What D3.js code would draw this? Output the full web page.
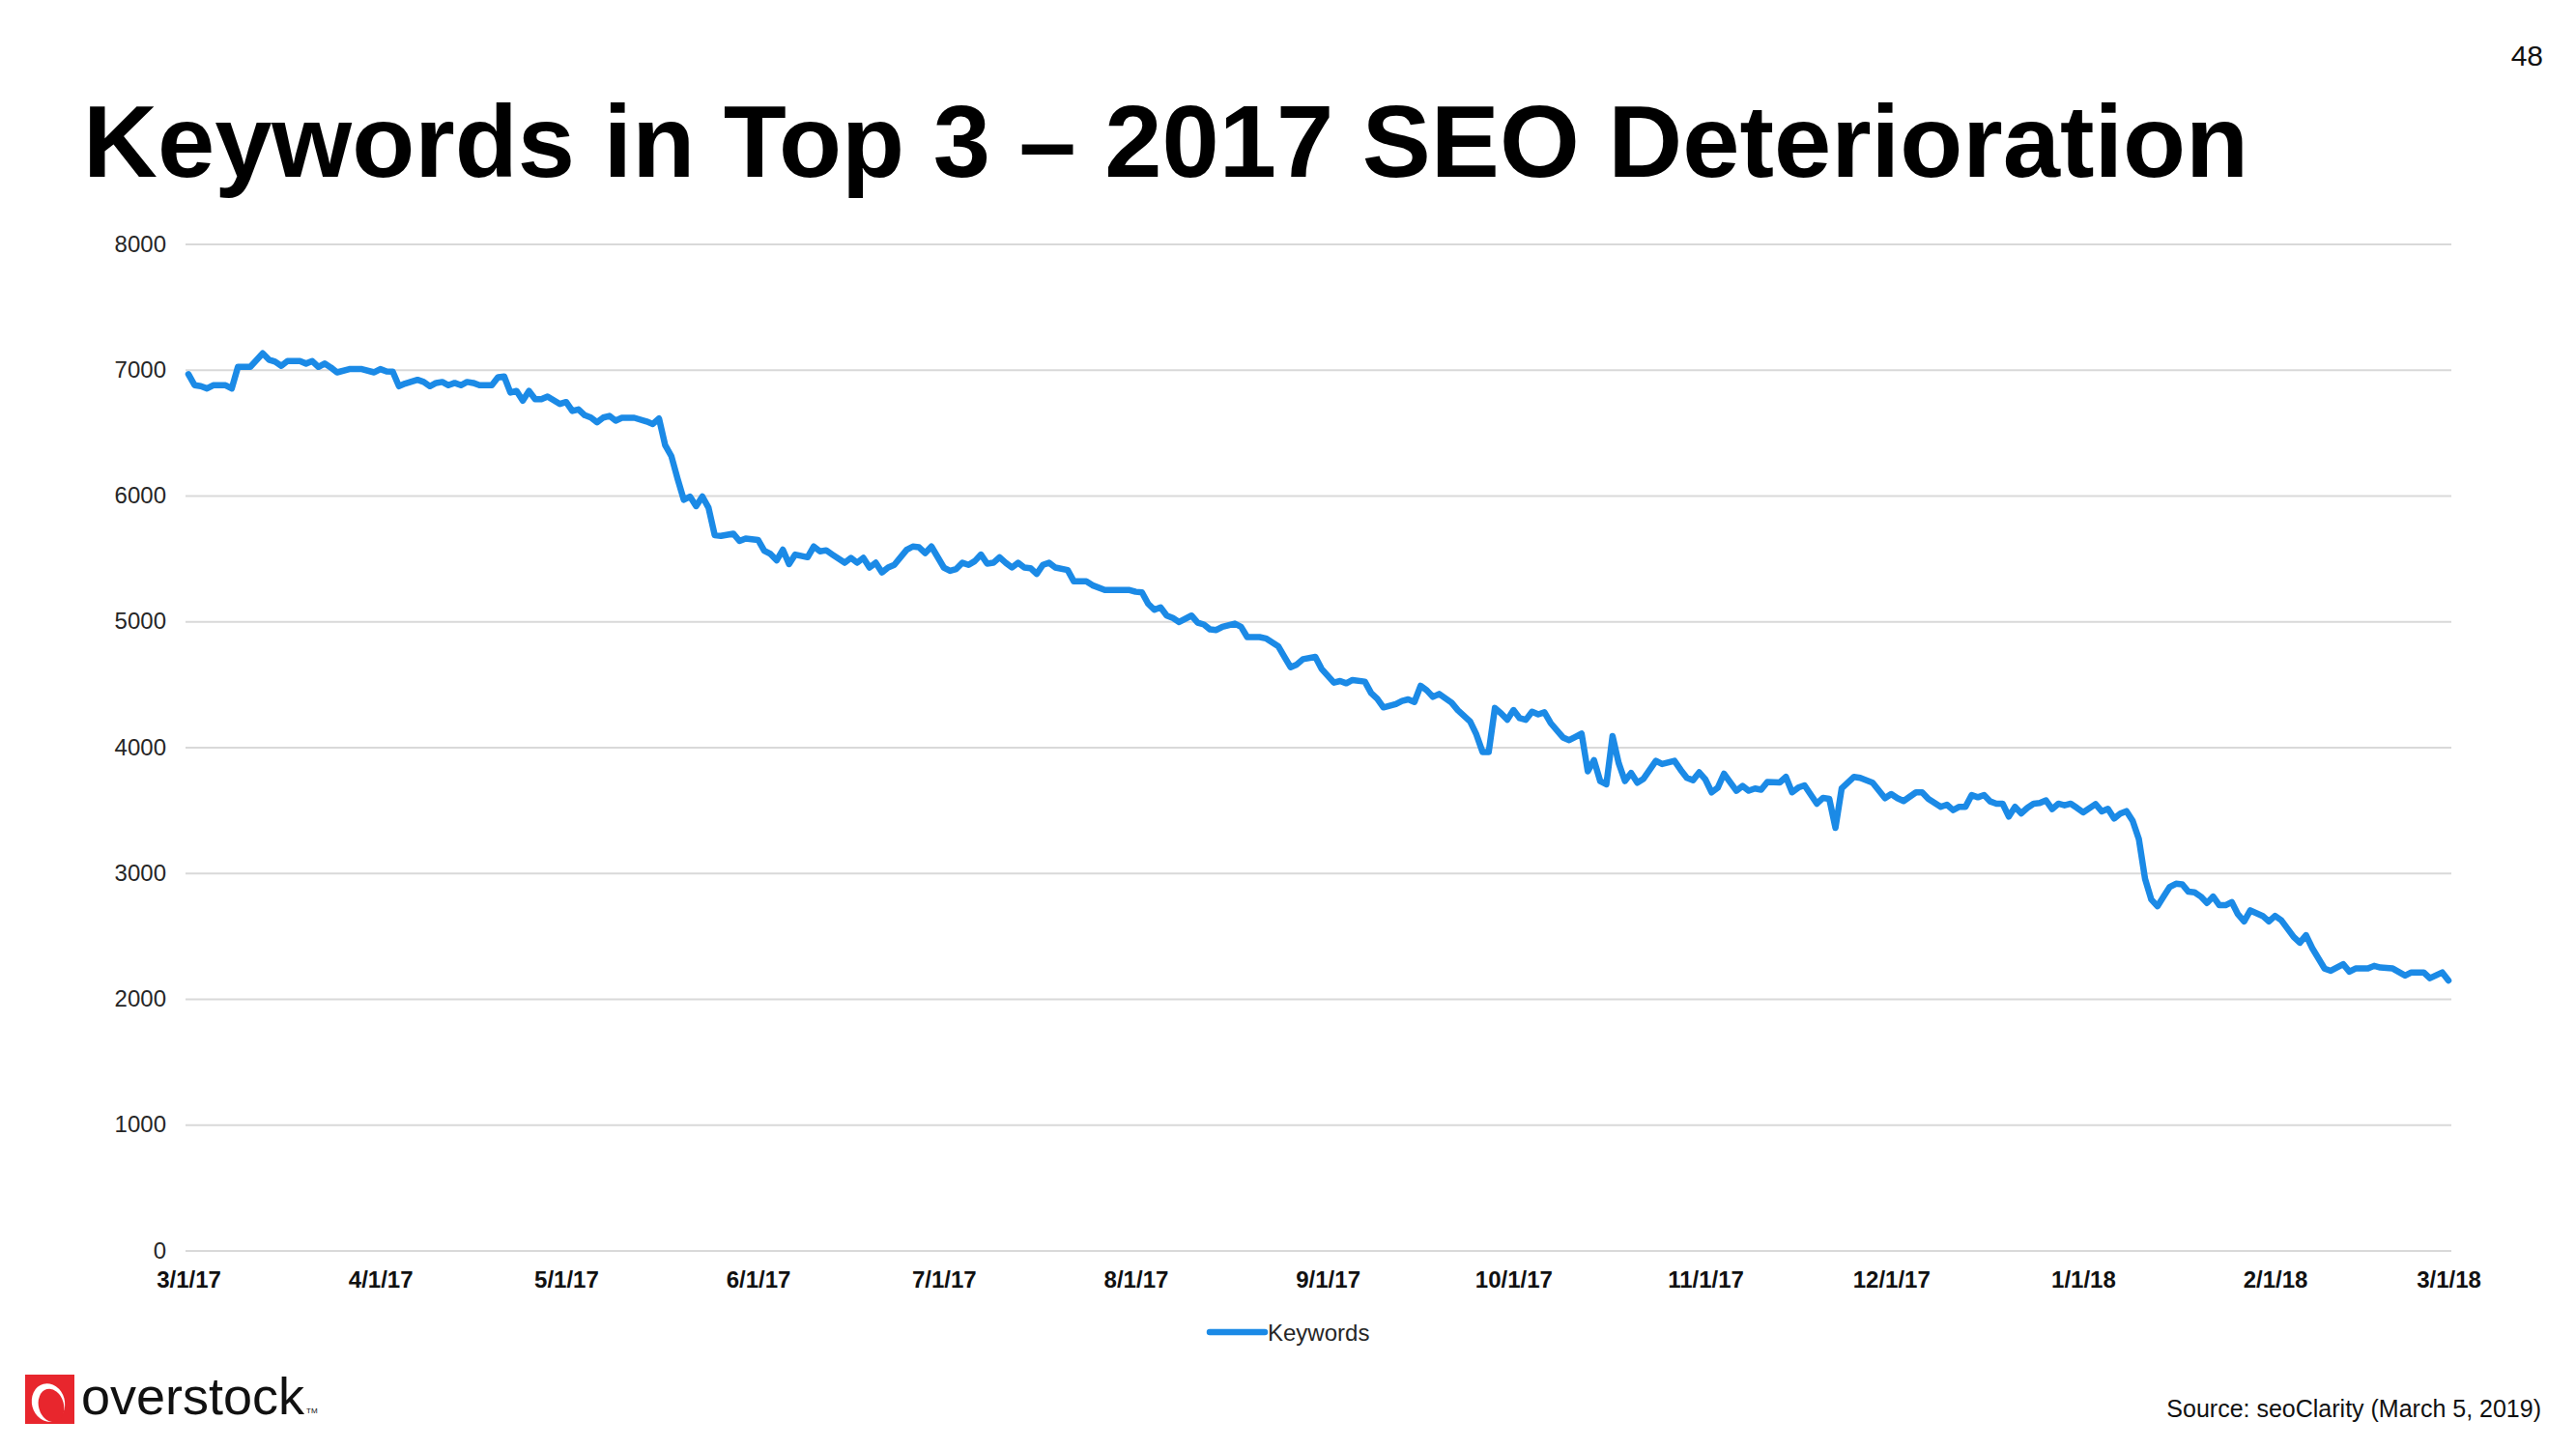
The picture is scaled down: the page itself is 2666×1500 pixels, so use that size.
<!DOCTYPE html>
<html>
<head>
<meta charset="utf-8">
<script src="https://cdn.jsdelivr.net/npm/d3@7"></script>
<style>
  html, body { margin: 0; padding: 0; background: #fff; }
  svg { display: block; }
  text { font-family: "Liberation Sans", Arial, Helvetica, sans-serif; }
</style>
</head>
<body>
<svg id="chart" width="2666" height="1500"></svg>
<script>
// ---------------- DATA ----------------
const dates = [
"3/1/17","3/2/17","3/3/17","3/4/17","3/5/17","3/7/17","3/8/17","3/9/17","3/11/17","3/13/17",
"3/14/17","3/15/17","3/16/17","3/17/17","3/19/17","3/20/17","3/21/17","3/22/17","3/23/17","3/24/17",
"3/25/17","3/27/17","3/29/17","3/31/17","4/1/17","4/2/17","4/3/17","4/4/17","4/5/17","4/7/17",
"4/8/17","4/9/17","4/10/17","4/11/17","4/12/17","4/13/17","4/14/17","4/15/17","4/16/17","4/17/17",
"4/19/17","4/20/17","4/21/17","4/22/17","4/23/17","4/24/17","4/25/17","4/26/17","4/27/17","4/28/17",
"4/30/17","5/1/17","5/2/17","5/3/17","5/4/17","5/5/17","5/6/17","5/7/17","5/8/17","5/9/17",
"5/10/17","5/12/17","5/14/17","5/15/17","5/16/17","5/17/17","5/18/17","5/19/17","5/20/17","5/21/17",
"5/22/17","5/23/17","5/24/17","5/25/17","5/26/17","5/28/17","5/29/17","5/30/17","6/1/17","6/2/17",
"6/3/17","6/4/17","6/5/17","6/6/17","6/7/17","6/9/17","6/10/17","6/11/17","6/12/17","6/13/17",
"6/15/17","6/16/17","6/17/17","6/18/17","6/19/17","6/20/17","6/21/17","6/22/17","6/23/17","6/25/17",
"6/26/17","6/27/17","6/28/17","6/29/17","7/1/17","7/2/17","7/3/17","7/4/17","7/5/17","7/6/17",
"7/7/17","7/8/17","7/9/17","7/10/17","7/11/17","7/12/17","7/13/17","7/14/17","7/15/17","7/16/17",
"7/17/17","7/18/17","7/19/17","7/21/17","7/22/17","7/24/17","7/25/17","7/27/17","7/31/17","8/1/17",
"8/2/17","8/3/17","8/4/17","8/5/17","8/6/17","8/7/17","8/8/17","8/10/17","8/11/17","8/12/17",
"8/13/17","8/14/17","8/15/17","8/17/17","8/18/17","8/19/17","8/21/17","8/22/17","8/24/17","8/25/17",
"8/26/17","8/27/17","8/28/17","8/30/17","8/31/17","9/2/17","9/3/17","9/4/17","9/5/17","9/7/17",
"9/8/17","9/9/17","9/10/17","9/12/17","9/13/17","9/14/17","9/15/17","9/16/17","9/17/17","9/18/17",
"9/19/17","9/21/17","9/22/17","9/24/17","9/25/17","9/26/17","9/27/17","9/28/17","9/29/17","9/30/17",
"10/1/17","10/2/17","10/3/17","10/4/17","10/5/17","10/6/17","10/7/17","10/9/17","10/10/17","10/11/17",
"10/12/17","10/13/17","10/14/17","10/15/17","10/16/17","10/17/17","10/18/17","10/19/17","10/20/17","10/21/17",
"10/22/17","10/24/17","10/25/17","10/27/17","10/28/17","10/29/17","10/30/17","10/31/17","11/1/17","11/2/17",
"11/3/17","11/4/17","11/6/17","11/7/17","11/8/17","11/9/17","11/10/17","11/11/17","11/13/17","11/14/17",
"11/15/17","11/16/17","11/17/17","11/19/17","11/20/17","11/21/17","11/22/17","11/23/17","11/25/17","11/26/17",
"11/28/17","11/30/17","12/1/17","12/2/17","12/3/17","12/5/17","12/6/17","12/7/17","12/9/17","12/10/17",
"12/11/17","12/12/17","12/13/17","12/14/17","12/15/17","12/16/17","12/17/17","12/18/17","12/19/17","12/20/17",
"12/21/17","12/22/17","12/23/17","12/24/17","12/25/17","12/26/17","12/27/17","12/28/17","12/29/17","12/30/17",
"12/31/17","1/1/18","1/3/18","1/4/18","1/5/18","1/6/18","1/7/18","1/8/18","1/9/18","1/10/18",
"1/11/18","1/12/18","1/13/18","1/14/18","1/15/18","1/16/18","1/17/18","1/18/18","1/19/18","1/20/18",
"1/21/18","1/22/18","1/23/18","1/24/18","1/25/18","1/26/18","1/27/18","1/28/18","1/30/18","1/31/18",
"2/1/18","2/2/18","2/4/18","2/5/18","2/6/18","2/7/18","2/9/18","2/10/18","2/12/18","2/13/18",
"2/14/18","2/16/18","2/17/18","2/18/18","2/20/18","2/22/18","2/23/18","2/25/18","2/26/18","2/28/18",
"3/1/18"
];

const keywords = [
6965,6877,6869,6851,6877,6877,6851,7023,7023,7130,
7080,7064,7031,7069,7069,7049,7069,7023,7049,7018,
6979,7005,7005,6979,7005,6987,6985,6869,6890,6920,
6903,6869,6895,6903,6877,6895,6877,6903,6895,6877,
6877,6941,6946,6818,6831,6754,6831,6766,6766,6787,
6728,6743,6672,6685,6639,6620,6582,6620,6633,6595,
6618,6618,6589,6569,6612,6400,6313,6133,5967,5992,
5916,5992,5903,5685,5680,5697,5639,5659,5647,5562,
5536,5485,5570,5455,5531,5510,5595,5557,5565,5531,
5466,5505,5466,5505,5428,5466,5389,5428,5449,5569,
5595,5589,5543,5595,5428,5402,5416,5466,5449,5479,
5531,5459,5466,5510,5466,5428,5466,5428,5423,5377,
5449,5466,5428,5408,5318,5318,5287,5249,5249,5235,
5230,5140,5092,5111,5046,5026,4995,5046,4990,4975,
4936,4931,4957,4982,4957,4875,4875,4865,4803,4718,
4636,4657,4700,4718,4623,4513,4526,4508,4534,4521,
4431,4385,4316,4342,4367,4380,4359,4488,4452,4400,
4423,4354,4295,4205,4102,3962,3962,4312,4269,4218,
4295,4231,4218,4282,4261,4277,4192,4077,4056,4082,
4108,3808,3897,3731,3705,4089,3872,3731,3795,3718,
3749,3892,3866,3892,3820,3756,3738,3800,3743,3641,
3679,3789,3654,3692,3654,3672,3662,3723,3720,3764,
3641,3679,3697,3551,3597,3589,3359,3672,3764,3756,
3718,3595,3628,3595,3572,3641,3641,3589,3526,3543,
3500,3526,3526,3620,3602,3620,3569,3551,3551,3449,
3526,3474,3518,3551,3556,3577,3508,3551,3538,3551,
3518,3482,3548,3490,3510,3433,3472,3492,3415,3270,
2954,2790,2736,2813,2890,2915,2910,2852,2846,2813,
2762,2813,2744,2744,2769,2672,2615,2703,2659,2615,
2659,2625,2492,2446,2506,2403,2240,2223,2275,2216,
2241,2241,2262,2249,2241,2185,2210,2210,2164,2210,
2146
];

const seriesName = "Keywords";
const xTickLabels = ["3/1/17","4/1/17","5/1/17","6/1/17","7/1/17","8/1/17","9/1/17",
                     "10/1/17","11/1/17","12/1/17","1/1/18","2/1/18","3/1/18"];
const yTicks = [0,1000,2000,3000,4000,5000,6000,7000,8000];

const titleText = "Keywords in Top 3 \u2013 2017 SEO Deterioration";
const pageNumber = "48";
const sourceText = "Source: seoClarity (March 5, 2019)";
const logoText = "overstock";

// ---------------- LAYOUT ----------------
const svg = d3.select("#chart");
const W = 2666, H = 1500;
svg.append("rect").attr("width", W).attr("height", H).attr("fill", "#fff");

const plotLeft = 192, plotRight = 2537;
const yTop = 252.5, yBottom = 1294.5;
const parse = d3.utcParse("%m/%d/%y");

const data = dates.map((d, i) => ({ date: parse(d), value: keywords[i] }));

const x = d3.scaleUtc()
  .domain([parse(xTickLabels[0]), parse(xTickLabels[xTickLabels.length - 1])])
  .range([195, 2534]);

const y = d3.scaleLinear().domain([0, 8000]).range([yBottom, yTop]);

const lineColor = "#1B8AE6";

// Y axis with gridlines
const yAxis = d3.axisLeft(y)
  .tickValues(yTicks)
  .tickSize(-(plotRight - plotLeft))
  .tickPadding(20)
  .tickFormat(d3.format("d"));

const gy = svg.append("g")
  .attr("transform", `translate(${plotLeft},0)`)
  .call(yAxis);
gy.select(".domain").remove();
gy.selectAll(".tick line").attr("stroke", "#d9d9d9").attr("stroke-width", 2);
gy.selectAll(".tick text")
  .attr("font-size", 24)
  .attr("fill", "#262626")
  .attr("font-family", "'Liberation Sans', Arial, sans-serif");

// X axis
const fmtX = d3.utcFormat("%-m/%-d/%y");
const xAxis = d3.axisBottom(x)
  .tickValues(xTickLabels.map(parse))
  .tickSize(0)
  .tickFormat(fmtX);

const gx = svg.append("g")
  .attr("transform", `translate(0,${yBottom})`)
  .call(xAxis);
gx.select(".domain").remove();
gx.selectAll(".tick text")
  .attr("y", 38).attr("dy", 0)
  .attr("font-size", 24)
  .attr("font-weight", "bold")
  .attr("fill", "#111")
  .attr("font-family", "'Liberation Sans', Arial, sans-serif");

// Line
const line = d3.line()
  .x(d => x(d.date))
  .y(d => y(d.value))
  .curve(d3.curveLinear);

svg.append("path")
  .datum(data)
  .attr("d", line)
  .attr("fill", "none")
  .attr("stroke", lineColor)
  .attr("stroke-width", 6.5)
  .attr("stroke-linejoin", "round")
  .attr("stroke-linecap", "round");

// Legend
const lg = svg.append("g");
lg.append("line")
  .attr("x1", 1252).attr("x2", 1309)
  .attr("y1", 1379).attr("y2", 1379)
  .attr("stroke", lineColor).attr("stroke-width", 6.5)
  .attr("stroke-linecap", "round");
lg.append("text")
  .attr("x", 1312).attr("y", 1387.5)
  .attr("font-size", 24)
  .attr("fill", "#262626")
  .text(seriesName);

// Title
svg.append("text")
  .attr("x", 86).attr("y", 183)
  .attr("font-size", 106.5)
  .attr("font-weight", "bold")
  .attr("fill", "#000")
  .text(titleText);

// Page number
svg.append("text")
  .attr("x", 2632).attr("y", 68)
  .attr("text-anchor", "end")
  .attr("font-size", 30)
  .attr("fill", "#111")
  .text(pageNumber);

// Source
svg.append("text")
  .attr("x", 2630).attr("y", 1467)
  .attr("text-anchor", "end")
  .attr("font-size", 25)
  .attr("fill", "#111")
  .text(sourceText);

// Logo
const logo = svg.append("g").attr("transform", "translate(26,1423)");
logo.append("rect").attr("width", 51).attr("height", 51).attr("fill", "#E8262D");
logo.append("ellipse")
  .attr("cx", 24).attr("cy", 29).attr("rx", 17).attr("ry", 20)
  .attr("fill", "#fff")
  .attr("transform", "rotate(-15,24,29)");
logo.append("ellipse")
  .attr("cx", 27).attr("cy", 32).attr("rx", 13).attr("ry", 17.5)
  .attr("fill", "#E8262D")
  .attr("transform", "rotate(-15,27,32)");
svg.append("text")
  .attr("x", 84).attr("y", 1463.5)
  .attr("font-size", 54)
  .attr("fill", "#111")
  .attr("textLength", 231)
  .attr("lengthAdjust", "spacingAndGlyphs")
  .text(logoText);
svg.append("text")
  .attr("x", 317).attr("y", 1463)
  .attr("font-size", 8)
  .attr("fill", "#111")
  .text("TM");
</script>
</body>
</html>
